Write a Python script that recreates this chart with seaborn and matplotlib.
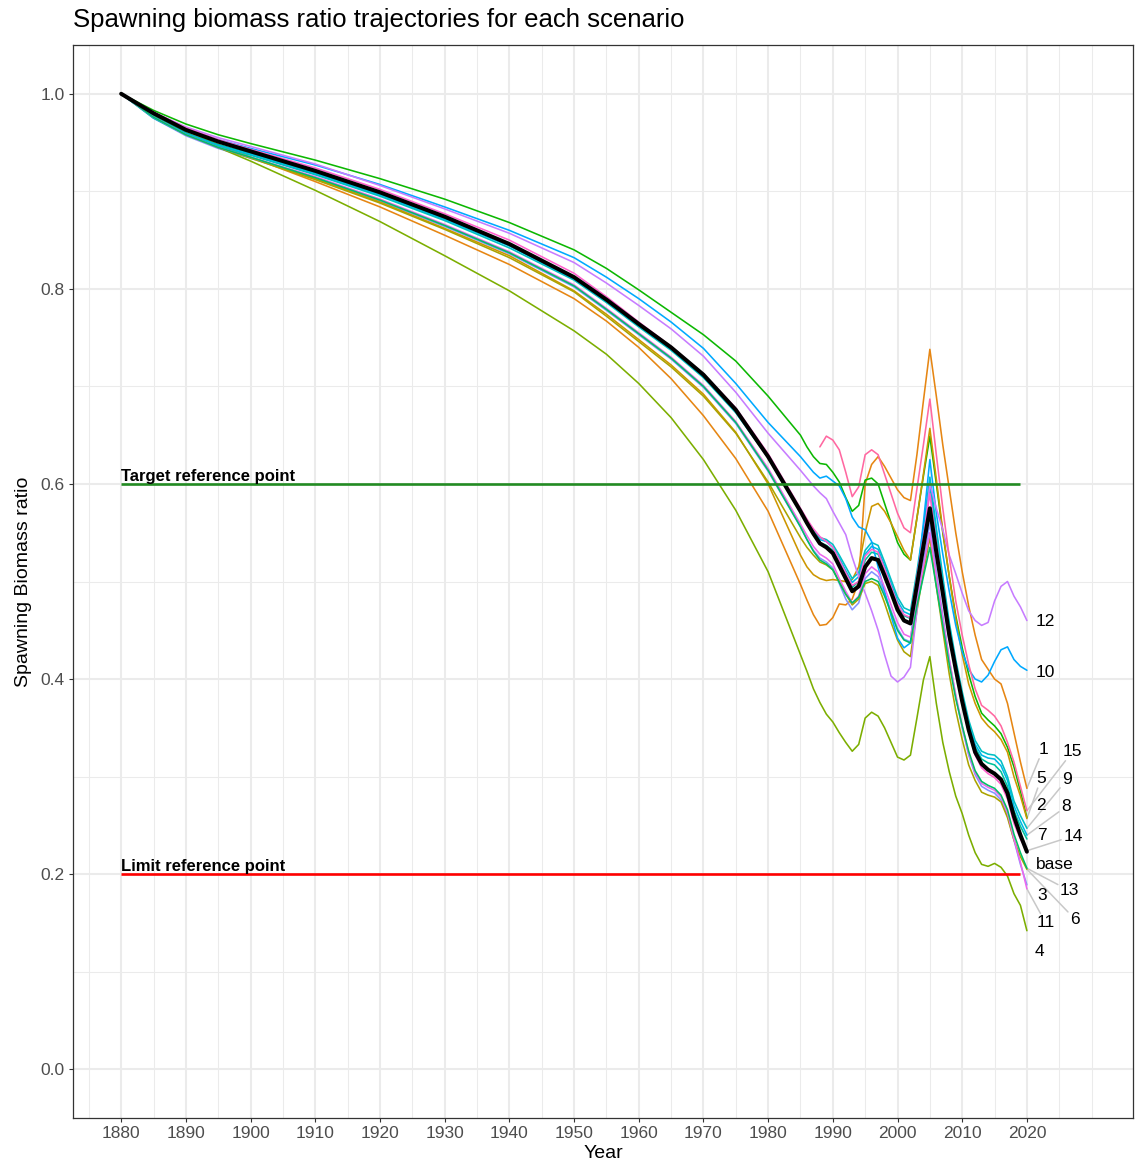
import numpy as np
import pandas as pd
import matplotlib
matplotlib.use("Agg")
import matplotlib.pyplot as plt
import seaborn as sns

# ---------------- data ----------------
years_early = [1880, 1885, 1890, 1895, 1900, 1910, 1920, 1930, 1940, 1950,
               1955, 1960, 1965, 1970, 1975, 1980]
years_annual = list(range(1985, 2021))
years = years_early + years_annual
years_s15 = list(range(1988, 2021))

base = [1.000, .980, .963, .951, .941, .921, .899, .874, .846, .812, .789, .764, .740, .712, .676, .628,
        .572, .560, .549, .539, .535, .529, .516, .503, .490, .495, .515, .524, .522, .506, .489, .471,
        .460, .457, .496, .536, .575, .530, .488, .445, .410, .377, .348, .325, .313, .307, .303, .297,
        .283, .259, .240, .223]

s1 = [1.000, .979, .962, .948, .935, .910, .884, .855, .825, .790, .767, .740, .708, .670, .626, .572,
      .497, .481, .466, .455, .456, .463, .477, .476, .482, .500, .600, .620, .628, .618, .606, .594,
      .586, .583, .630, .685, .738, .690, .640, .595, .550, .510, .475, .445, .420, .410, .400, .395,
      .375, .345, .315, .288]
s2 = [1.000, .983, .969, .958, .949, .932, .913, .892, .868, .840, .821, .799, .776, .753, .726, .690,
      .650, .638, .628, .621, .620, .612, .602, .586, .572, .578, .604, .606, .600, .580, .560, .540,
      .528, .522, .565, .608, .649, .600, .550, .505, .465, .432, .405, .382, .365, .358, .352, .344,
      .330, .310, .285, .258]
s3 = [1.000, .975, .957, .944, .934, .913, .890, .864, .836, .802, .778, .753, .728, .699, .662, .613,
      .556, .543, .532, .524, .520, .514, .498, .482, .471, .478, .503, .510, .505, .488, .470, .452,
      .441, .438, .480, .520, .560, .510, .465, .420, .382, .350, .322, .302, .290, .286, .283, .276,
      .260, .235, .210, .189]
s4 = [1.000, .978, .960, .945, .931, .901, .869, .834, .798, .757, .733, .703, .668, .625, .573, .510,
      .425, .408, .390, .376, .364, .356, .345, .335, .326, .333, .360, .366, .362, .350, .335, .320,
      .317, .322, .360, .399, .423, .375, .335, .305, .280, .262, .240, .222, .210, .208, .211, .207,
      .198, .180, .168, .142]
s5 = [1.000, .977, .959, .946, .935, .913, .889, .862, .834, .798, .774, .748, .722, .692, .653, .600,
      .527, .515, .507, .503, .501, .502, .501, .500, .502, .515, .550, .577, .580, .572, .560, .546,
      .532, .522, .565, .610, .657, .605, .552, .505, .462, .425, .395, .375, .360, .352, .346, .338,
      .325, .300, .280, .257]
s6 = [1.000, .976, .958, .945, .934, .912, .888, .861, .832, .797, .772, .746, .720, .690, .652, .602,
      .545, .535, .527, .520, .517, .512, .500, .487, .476, .482, .498, .500, .496, .478, .458, .440,
      .428, .423, .470, .510, .545, .495, .450, .405, .368, .338, .312, .296, .284, .281, .279, .274,
      .258, .235, .218, .205]
s7 = [1.000, .977, .960, .948, .939, .919, .897, .872, .845, .811, .788, .763, .739, .711, .675, .627,
      .571, .559, .548, .540, .537, .532, .520, .507, .494, .500, .522, .530, .528, .512, .494, .476,
      .465, .462, .500, .545, .595, .545, .497, .452, .413, .380, .351, .330, .318, .314, .312, .305,
      .290, .265, .249, .236]
s8 = [1.000, .976, .959, .947, .938, .918, .896, .871, .844, .810, .787, .762, .738, .710, .674, .627,
      .573, .561, .551, .543, .541, .535, .524, .511, .499, .505, .528, .536, .533, .516, .498, .480,
      .469, .466, .505, .550, .600, .550, .500, .455, .416, .383, .354, .333, .322, .319, .318, .311,
      .296, .270, .254, .240]
s9 = [1.000, .975, .958, .946, .937, .917, .895, .870, .842, .809, .786, .761, .737, .709, .673, .627,
      .573, .562, .552, .545, .543, .538, .527, .515, .503, .509, .532, .540, .537, .520, .502, .484,
      .473, .470, .510, .555, .607, .555, .505, .458, .420, .387, .358, .337, .326, .323, .322, .316,
      .300, .275, .260, .247]
s10 = [1.000, .979, .964, .953, .944, .927, .907, .884, .860, .832, .812, .790, .766, .739, .703, .663,
       .628, .620, .612, .606, .608, .603, .598, .585, .566, .556, .553, .541, .515, .490, .465, .442,
       .432, .437, .500, .560, .625, .570, .528, .490, .455, .428, .410, .400, .397, .404, .418, .430,
       .433, .420, .413, .409]
s11 = [1.000, .976, .958, .945, .935, .915, .892, .866, .838, .804, .780, .755, .730, .701, .664, .616,
       .559, .547, .536, .528, .524, .518, .503, .490, .478, .485, .508, .515, .510, .494, .476, .458,
       .446, .443, .480, .515, .550, .505, .462, .420, .384, .352, .324, .304, .293, .289, .286, .279,
       .263, .236, .212, .185]
s12 = [1.000, .981, .966, .955, .946, .928, .906, .882, .857, .827, .806, .783, .759, .731, .694, .652,
       .614, .606, .598, .591, .585, .572, .560, .548, .525, .505, .488, .470, .450, .425, .403, .397,
       .402, .412, .470, .540, .600, .575, .553, .527, .508, .488, .470, .460, .455, .458, .480, .495,
       .500, .485, .474, .460]
s13 = [1.000, .976, .958, .945, .935, .914, .891, .865, .837, .803, .779, .754, .729, .700, .663, .614,
       .556, .543, .531, .522, .518, .512, .499, .487, .478, .484, .500, .503, .500, .485, .468, .450,
       .440, .437, .475, .505, .535, .495, .455, .415, .380, .352, .326, .306, .295, .291, .288, .281,
       .266, .241, .222, .206]
s14 = [1.000, .981, .965, .953, .943, .924, .902, .877, .850, .816, .792, .766, .741, .713, .678, .631,
       .575, .564, .554, .546, .541, .535, .522, .509, .496, .500, .526, .533, .530, .513, .495, .477,
       .466, .463, .505, .545, .590, .540, .493, .448, .410, .376, .346, .322, .309, .303, .299, .292,
       .277, .252, .236, .224]
s15 = [.638, .649, .645, .635, .612, .587, .597, .630, .635, .630, .610, .590, .570, .555, .550, .595,
       .640, .687, .630, .575, .525, .480, .445, .415, .390, .373, .368, .362, .352, .335, .315, .290,
       .265]

scenario_values = {"1": s1, "2": s2, "3": s3, "4": s4, "5": s5, "6": s6, "7": s7, "8": s8,
                   "9": s9, "10": s10, "11": s11, "12": s12, "13": s13, "14": s14, "15": s15}
scenario_years = {k: (years_s15 if k == "15" else years) for k in scenario_values}

scenario_colors = {"1": "#E68613", "2": "#0CB702", "3": "#8494FF", "4": "#7CAE00",
                   "5": "#CD9600", "6": "#ABA300", "7": "#00C19A", "8": "#00B8E7",
                   "9": "#00BFC4", "10": "#00A9FF", "11": "#ED68ED", "12": "#C77CFF",
                   "13": "#00BE67", "14": "#FF61CC", "15": "#FF68A1"}

target_ref, limit_ref = 0.6, 0.2
ref_start, ref_end = 1880, 2019
ref_labels = ["Target reference point", "Limit reference point"]

# label placement (ggrepel-like layout, in data coordinates)
label_pos = {"12": (2022.9, 0.4595), "10": (2022.9, 0.407), "1": (2022.5, 0.328),
             "15": (2027.1, 0.326), "5": (2022.2, 0.298), "9": (2026.2, 0.297),
             "2": (2022.2, 0.270), "8": (2026.0, 0.269), "7": (2022.3, 0.240),
             "14": (2027.1, 0.239), "base": (2024.3, 0.210), "13": (2026.6, 0.183),
             "3": (2022.3, 0.178), "6": (2027.4, 0.154), "11": (2022.9, 0.150),
             "4": (2022.0, 0.121)}

# ---------------- frame ----------------
rows = []
for k, vals in scenario_values.items():
    for yr, v in zip(scenario_years[k], vals):
        rows.append((k, yr, v))
df = pd.DataFrame(rows, columns=["Scenario", "Year", "SBR"])
df_base = pd.DataFrame({"Year": years, "SBR": base})

# ---------------- plot ----------------
sns.set_theme(style="white")
plt.rcParams["font.family"] = ["Liberation Sans", "DejaVu Sans"]

W, H = 1135, 1169
fig = plt.figure(figsize=(W / 100, H / 100), dpi=100)
L, R, T, B = 73.3, 1133, 45, 1118
ax = fig.add_axes([L / W, (H - B) / H, (R - L) / W, (B - T) / H])

ax.set_xlim(1872.6, 2036.4)
ax.set_ylim(-0.05, 1.05)

# grid
for xv in list(range(1875, 2030, 10)) + [2030]:
    ax.axvline(xv, color="#EBEBEB", lw=0.75, zorder=0)
for xv in range(1880, 2021, 10):
    ax.axvline(xv, color="#EBEBEB", lw=1.45, zorder=0)
for yv in np.arange(0.1, 1.0, 0.2):
    ax.axhline(yv, color="#EBEBEB", lw=0.75, zorder=0)
for yv in np.arange(0.0, 1.01, 0.2):
    ax.axhline(yv, color="#EBEBEB", lw=1.45, zorder=0)

sns.lineplot(data=df, x="Year", y="SBR", hue="Scenario", palette=scenario_colors,
             hue_order=list(scenario_values.keys()), estimator=None, lw=1.15,
             legend=False, ax=ax, zorder=2)
sns.lineplot(data=df_base, x="Year", y="SBR", color="black", lw=2.9, ax=ax, zorder=3)

ax.hlines(target_ref, ref_start, ref_end, color="#228B22", lw=1.9, zorder=4)
ax.hlines(limit_ref, ref_start, ref_end, color="#FF0000", lw=1.9, zorder=4)
ax.text(ref_start, target_ref + 0.003, ref_labels[0], fontsize=12, fontweight="bold",
        ha="left", va="baseline", color="black", zorder=5)
ax.text(ref_start, limit_ref + 0.003, ref_labels[1], fontsize=12, fontweight="bold",
        ha="left", va="baseline", color="black", zorder=5)

# end labels
end_points = {k: (scenario_years[k][-1], v[-1]) for k, v in scenario_values.items()}
end_points["base"] = (years[-1], base[-1])
texts = {}
for k, (lx, ly) in label_pos.items():
    texts[k] = ax.text(lx, ly, k, fontsize=12.5, ha="center", va="center", color="black", zorder=6)

ax.set_xticks(list(range(1880, 2021, 10)))
ax.set_yticks([0.0, 0.2, 0.4, 0.6, 0.8, 1.0])
ax.set_yticklabels(["0.0", "0.2", "0.4", "0.6", "0.8", "1.0"])
ax.tick_params(axis="both", labelsize=12.5, labelcolor="#4D4D4D", color="#333333",
               length=3, width=0.8, direction="out", bottom=True, left=True, pad=3)
for sp in ax.spines.values():
    sp.set_color("#333333")
    sp.set_linewidth(0.9)
ax.set_xlabel("Year", fontsize=14, color="black", labelpad=3)
ax.set_ylabel("Spawning Biomass ratio", fontsize=14, color="black", labelpad=6)
fig.text(L / W, 1 - 20 / H, "Spawning biomass ratio trajectories for each scenario",
         fontsize=18.5, ha="left", va="center", color="black")

# repel-like segments
fig.canvas.draw()
rend = fig.canvas.get_renderer()
inv = ax.transData.inverted()
for k, t in texts.items():
    bb = t.get_window_extent(rend).expanded(1.0, 1.0)
    px, py = ax.transData.transform(end_points[k])
    x0, x1, y0, y1 = bb.x0 - 2, bb.x1 + 2, bb.y0 - 2, bb.y1 + 2
    dx = max(x0 - px, 0, px - x1)
    dy = max(y0 - py, 0, py - y1)
    if np.hypot(dx, dy) < 14:
        continue
    cx, cy = (x0 + x1) / 2, (y0 + y1) / 2
    vx, vy = px - cx, py - cy
    ts = []
    if vx != 0:
        ts.append(((x1 if vx > 0 else x0) - cx) / vx)
    if vy != 0:
        ts.append(((y1 if vy > 0 else y0) - cy) / vy)
    tmin = min([t_ for t_ in ts if t_ > 0])
    sx, sy = cx + vx * tmin, cy + vy * tmin
    a = inv.transform((sx, sy))
    b = inv.transform((px, py))
    ax.plot([a[0], b[0]], [a[1], b[1]], color="#C8C8C8", lw=1.1, zorder=1.5)

fig.savefig("out.png", dpi=100)
